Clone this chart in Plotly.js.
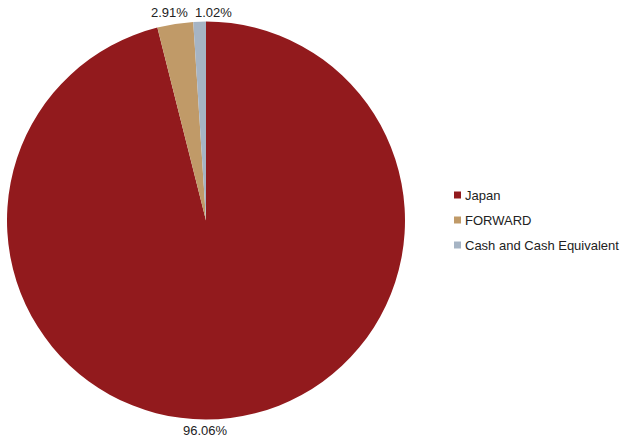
<!DOCTYPE html>
<html>
<head>
<meta charset="utf-8">
<script src="https://cdn.plot.ly/plotly-3.0.1.min.js"></script>
<style>html,body{margin:0;padding:0;background:#fff;}#chart{width:624px;height:439px;}</style>
</head>
<body>
<div id="chart"></div>
<script>
const categories = ["Japan", "FORWARD", "Cash and Cash Equivalent"];
const values = [96.06, 2.91, 1.02];
const valueLabels = ["96.06%", "2.91%", "1.02%"];
const colors = ["#921A1D", "#C09A68", "#A6B4C4"];

const W = 624, H = 439;
const FONT = "Liberation Sans, Arial, sans-serif";
const TXT = "#222222";

// label placement (pixel positions of label centres) – layout only
const labelPos = [[205, 430], [170, 13], [213, 13]];
// legend placement
const legendX = 454, legendY0 = 195, legendStep = 25, swatch = 7;

const px = x => x / W;
const py = y => 1 - y / H;

const trace = {
  type: "pie",
  labels: categories,
  values: values,
  text: valueLabels,
  textinfo: "none",
  textposition: "none",
  sort: false,
  direction: "clockwise",
  rotation: 0,
  marker: {colors: colors, line: {width: 0}},
  domain: {x: [7 / W, 405 / W], y: [19.5 / H, 417.5 / H]},
  hoverinfo: "label+percent"
};

const annotations = [];
const shapes = [];
valueLabels.forEach((t, i) => {
  annotations.push({
    xref: "paper", yref: "paper", x: px(labelPos[i][0]), y: py(labelPos[i][1]),
    xanchor: "center", yanchor: "middle", showarrow: false, text: t,
    font: {family: FONT, size: 13, color: TXT}
  });
});
categories.forEach((c, i) => {
  const cy = legendY0 + i * legendStep;
  shapes.push({
    type: "rect", xref: "paper", yref: "paper",
    x0: px(legendX), x1: px(legendX + swatch),
    y0: py(cy + swatch / 2), y1: py(cy - swatch / 2),
    fillcolor: colors[i], line: {width: 0}
  });
  annotations.push({
    xref: "paper", yref: "paper", x: px(legendX + swatch + 2), y: py(cy),
    xanchor: "left", yanchor: "middle", showarrow: false, text: c,
    font: {family: FONT, size: 13, color: TXT}
  });
});

const layout = {
  width: W, height: H,
  margin: {l: 0, r: 0, t: 0, b: 0},
  paper_bgcolor: "#fff",
  showlegend: false,
  annotations: annotations,
  shapes: shapes,
  font: {family: FONT}
};

Plotly.newPlot("chart", [trace], layout, {displayModeBar: false, staticPlot: true});
</script>
</body>
</html>
